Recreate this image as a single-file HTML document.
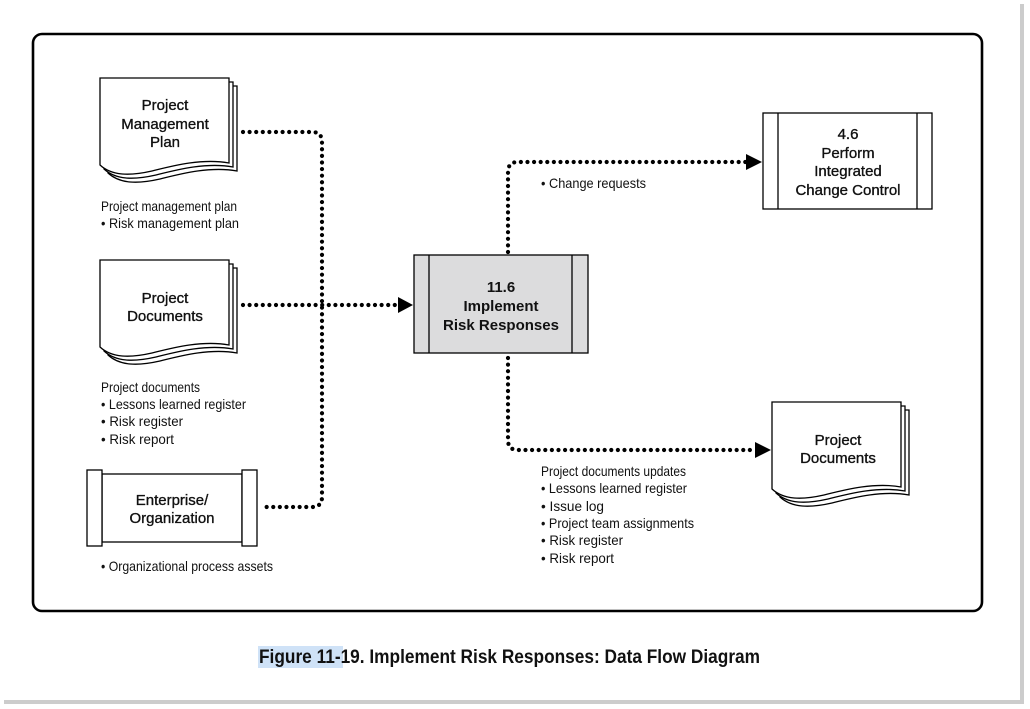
<!DOCTYPE html>
<html><head><meta charset="utf-8"><style>
html,body{margin:0;padding:0;background:#fff;}
svg{display:block;}
.t{font-family:"Liberation Sans",sans-serif;font-size:15px;fill:#111;stroke:#111;stroke-width:0.35;text-anchor:middle;}
.tb{font-family:"Liberation Sans",sans-serif;font-size:15px;font-weight:bold;fill:#111;text-anchor:middle;}
.l{font-family:"Liberation Sans",sans-serif;font-size:14px;fill:#111;}
.d{fill:none;stroke:#000;stroke-width:4.2;stroke-dasharray:0 6.6;stroke-linecap:round;}
</style></head><body>
<svg width="1030" height="709" viewBox="0 0 1030 709" xmlns="http://www.w3.org/2000/svg">
<defs>
<g id="doc">
<path d="M8,8 H137 V93 C110,88 80,96 60,101 C38,106 20,106 8,95 Z" fill="#fff" stroke="#000" stroke-width="1.3"/>
<path d="M4,4 H133 V89 C106,84 76,92 56,97 C34,102 16,102 4,91 Z" fill="#fff" stroke="#000" stroke-width="1.3"/>
<path d="M0,0 H129 V85 C102,80 72,88 52,93 C30,98 12,98 0,87 Z" fill="#fff" stroke="#000" stroke-width="1.3"/>
</g>
</defs>
<rect x="0" y="0" width="1030" height="709" fill="#fff"/>
<rect x="1020" y="4" width="4" height="700" fill="#ccc"/>
<rect x="4" y="700" width="1020" height="4" fill="#ccc"/>
<rect x="33" y="34" width="949" height="577" rx="9" fill="#fff" stroke="#000" stroke-width="2.6"/>

<path class="d" d="M243,132 H312 Q322,132 322,142 V497 Q322,507 312,507 H262"/>
<path class="d" d="M243,305 H398"/>
<polygon points="398,297 413,305 398,313" fill="#000"/>
<path class="d" d="M508,252 V172 Q508,162 518,162 H746"/>
<polygon points="746,154 762,162 746,170" fill="#000"/>
<path class="d" d="M508,358 V440 Q508,450 518,450 H755"/>
<polygon points="755,442 771,450 755,458" fill="#000"/>

<use href="#doc" x="100" y="78"/>
<text class="t" x="165" y="110">Project</text>
<text class="t" x="165" y="129">Management</text>
<text class="t" x="165" y="147">Plan</text>
<text class="l" x="101" y="211" textLength="136" lengthAdjust="spacingAndGlyphs">Project management plan</text>
<text class="l" x="101" y="228" textLength="138" lengthAdjust="spacingAndGlyphs">•  Risk management plan</text>

<use href="#doc" x="100" y="260"/>
<text class="t" x="165" y="303">Project</text>
<text class="t" x="165" y="321">Documents</text>
<text class="l" x="101" y="392" textLength="99" lengthAdjust="spacingAndGlyphs">Project documents</text>
<text class="l" x="101" y="409" textLength="145" lengthAdjust="spacingAndGlyphs">•  Lessons learned register</text>
<text class="l" x="101" y="426" textLength="82" lengthAdjust="spacingAndGlyphs">•  Risk register</text>
<text class="l" x="101" y="444" textLength="73" lengthAdjust="spacingAndGlyphs">•  Risk report</text>

<rect x="102" y="474" width="140" height="68" fill="#fff" stroke="#000" stroke-width="1.3"/>
<rect x="87" y="470" width="15" height="76" fill="#fff" stroke="#000" stroke-width="1.3"/>
<rect x="242" y="470" width="15" height="76" fill="#fff" stroke="#000" stroke-width="1.3"/>
<text class="t" x="172" y="505">Enterprise/</text>
<text class="t" x="172" y="523">Organization</text>
<text class="l" x="101" y="571" textLength="172" lengthAdjust="spacingAndGlyphs">•  Organizational process assets</text>

<rect x="414" y="255" width="174" height="98" fill="#dcdcdd" stroke="#000" stroke-width="1.3"/>
<line x1="429" y1="255" x2="429" y2="353" stroke="#000" stroke-width="1.3"/>
<line x1="572" y1="255" x2="572" y2="353" stroke="#000" stroke-width="1.3"/>
<text class="tb" x="501" y="292">11.6</text>
<text class="tb" x="501" y="311">Implement</text>
<text class="tb" x="501" y="330">Risk Responses</text>

<rect x="763" y="113" width="169" height="96" fill="#fff" stroke="#000" stroke-width="1.3"/>
<line x1="778" y1="113" x2="778" y2="209" stroke="#000" stroke-width="1.3"/>
<line x1="917" y1="113" x2="917" y2="209" stroke="#000" stroke-width="1.3"/>
<text class="t" x="848" y="139">4.6</text>
<text class="t" x="848" y="158">Perform</text>
<text class="t" x="848" y="176">Integrated</text>
<text class="t" x="848" y="195">Change Control</text>
<text class="l" x="541" y="188" textLength="105" lengthAdjust="spacingAndGlyphs">•  Change requests</text>

<use href="#doc" x="772" y="402"/>
<text class="t" x="838" y="445">Project</text>
<text class="t" x="838" y="463">Documents</text>
<text class="l" x="541" y="476" textLength="145" lengthAdjust="spacingAndGlyphs">Project documents updates</text>
<text class="l" x="541" y="493" textLength="146" lengthAdjust="spacingAndGlyphs">•  Lessons learned register</text>
<text class="l" x="541" y="511" textLength="63" lengthAdjust="spacingAndGlyphs">•  Issue log</text>
<text class="l" x="541" y="528" textLength="153" lengthAdjust="spacingAndGlyphs">•  Project team assignments</text>
<text class="l" x="541" y="545" textLength="82" lengthAdjust="spacingAndGlyphs">•  Risk register</text>
<text class="l" x="541" y="563" textLength="73" lengthAdjust="spacingAndGlyphs">•  Risk report</text>

<rect x="258" y="646" width="85" height="22" fill="#cfe2f7"/>
<text x="259" y="663" font-family="Liberation Sans,sans-serif" font-weight="bold" font-size="19" fill="#111" textLength="501" lengthAdjust="spacingAndGlyphs">Figure 11-19. Implement Risk Responses: Data Flow Diagram</text>
</svg>
</body></html>
